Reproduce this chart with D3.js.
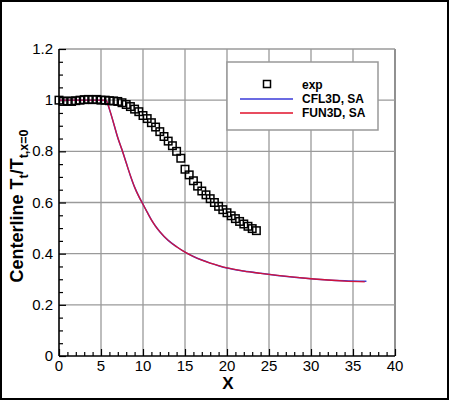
<!DOCTYPE html>
<html><head><meta charset="utf-8">
<script src="https://cdn.jsdelivr.net/npm/d3@7"></script>
<style>body{margin:0;background:#fff}svg{display:block}text{font-family:"Liberation Sans",Arial,sans-serif}</style>
</head><body>
<svg id="c" width="450" height="401"></svg>
<script>
// ---- data ----
const expX = [0,0.5,1,1.5,2,2.5,3,3.5,4,4.5,5,5.5,6,6.5,7,7.5,8,8.5,9,9.5,10,10.5,11,11.5,12,12.5,13,13.5,14,14.5,15,15.5,16,16.5,17,17.5,18,18.5,19,19.5,20,20.5,21,21.5,22,22.5,23,23.5];
const expY = [1.0,0.995,0.997,0.995,0.998,1.0,1.002,1.003,1.002,1.003,1.0,1.0,0.998,0.997,0.995,0.99,0.983,0.975,0.965,0.955,0.94,0.928,0.912,0.895,0.877,0.858,0.84,0.822,0.8,0.773,0.73,0.708,0.685,0.664,0.645,0.63,0.615,0.6,0.585,0.572,0.56,0.548,0.537,0.526,0.516,0.507,0.498,0.49];
const cflX = [0,1,2,3,4,5,5.6,6,6.5,7,7.5,8,8.5,9,9.5,10,10.5,11,11.5,12,13,14,15,16,17,18,19,20,22,24,26,28,30,32,34,36.6];
const cflY = [1.0,1.0,1.0,1.0,1.0,1.0,0.999,0.965,0.91,0.853,0.806,0.755,0.705,0.66,0.624,0.593,0.562,0.532,0.507,0.486,0.452,0.427,0.406,0.389,0.375,0.363,0.353,0.344,0.332,0.323,0.315,0.308,0.302,0.297,0.294,0.292];
const funX = [0,1,2,3,4,5,5.6,6,6.5,7,7.5,8,8.5,9,9.5,10,10.5,11,11.5,12,13,14,15,16,17,18,19,20,22,24,26,28,30,32,34,36.4];
const funY = [1.0,1.0,1.0,1.0,1.0,1.0,0.999,0.965,0.91,0.853,0.806,0.755,0.705,0.66,0.624,0.593,0.562,0.532,0.507,0.486,0.452,0.427,0.406,0.389,0.375,0.363,0.353,0.344,0.332,0.323,0.315,0.308,0.302,0.297,0.293,0.29];
const xTicks = [0,5,10,15,20,25,30,35,40];
const yTicks = [0,0.2,0.4,0.6,0.8,1.0,1.2];
const yTickLabels = ["0","0.2","0.4","0.6","0.8","1","1.2"];
const seriesNames = ["exp","CFL3D, SA","FUN3D, SA"];
const seriesColors = ["#000000","#3a3ad8","#e0102a"];

// ---- layout ----
const svg = d3.select("#c");
const L = 59, R = 395, T = 49, B = 356;
const x = d3.scaleLinear().domain([0,40]).range([L,R]);
const y = d3.scaleLinear().domain([0,1.2]).range([B,T]);

svg.append("rect").attr("x",1).attr("y",1).attr("width",447).attr("height",398)
  .attr("fill","#fff").attr("stroke","#000").attr("stroke-width",2);

// grid
const g = svg.append("g");
g.selectAll("line.gx").data(xTicks.slice(1)).join("line")
  .attr("x1",d=>x(d)).attr("x2",d=>x(d)).attr("y1",B).attr("y2",T)
  .attr("stroke",d=>d===40?"#555":"#9a9a9a").attr("stroke-width",1.3);
g.selectAll("line.gy").data(yTicks.slice(1)).join("line")
  .attr("y1",d=>y(d)).attr("y2",d=>y(d)).attr("x1",L).attr("x2",R)
  .attr("stroke","#9a9a9a").attr("stroke-width",1.3);

// axes (ticks inward)
const ax = svg.append("g").attr("transform",`translate(0,${B})`)
  .call(d3.axisTop(x).tickValues(d3.range(0,41,1)).tickSize(4).tickFormat(""));
ax.selectAll(".tick line").filter(d=>d%5===0).attr("y2",-7);
const ay = svg.append("g").attr("transform",`translate(${L},0)`)
  .call(d3.axisRight(y).tickValues(d3.range(0,1.2001,0.05)).tickSize(4).tickFormat(""));
ay.selectAll(".tick line").filter(d=>Math.abs(d/0.2-Math.round(d/0.2))<1e-6).attr("x2",7);
[ax,ay].forEach(a=>{a.select(".domain").remove();a.selectAll(".tick line").attr("stroke","#000").attr("stroke-width",1.2);});
svg.append("line").attr("x1",L).attr("x2",L).attr("y1",T).attr("y2",B).attr("stroke","#000").attr("stroke-width",1.6);
svg.append("line").attr("x1",L).attr("x2",R).attr("y1",B).attr("y2",B).attr("stroke","#000").attr("stroke-width",1.6);

// tick labels
svg.selectAll("text.xt").data(xTicks).join("text")
  .attr("x",d=>x(d)).attr("y",B+15).attr("text-anchor","middle")
  .attr("font-size",15).text(d=>d);
svg.selectAll("text.yt").data(yTicks).join("text")
  .attr("x",L-6).attr("y",d=>y(d)+5).attr("text-anchor","end")
  .attr("font-size",15).text((d,i)=>yTickLabels[i]);

// axis titles
svg.append("text").attr("x",228).attr("y",389).attr("text-anchor","middle")
  .attr("font-size",17).attr("font-weight","bold").text("X");
const yl = svg.append("text").attr("transform","translate(23,206) rotate(-90)")
  .attr("text-anchor","middle").attr("font-size",18).attr("font-weight","bold");
yl.append("tspan").text("Centerline T");
yl.append("tspan").attr("font-size",12.5).attr("dy",5).text("t");
yl.append("tspan").attr("dy",-5).text("/T");
yl.append("tspan").attr("font-size",12.5).attr("dy",5).text("t,x=0");

// lines
const line = d3.line().x(d=>x(d[0])).y(d=>y(d[1])).curve(d3.curveMonotoneX);
svg.append("path").datum(cflX.map((v,i)=>[v,cflY[i]])).attr("d",line)
  .attr("fill","none").attr("stroke",seriesColors[1]).attr("stroke-width",1.5);
svg.append("path").datum(funX.map((v,i)=>[v,funY[i]])).attr("d",line)
  .attr("fill","none").attr("stroke",seriesColors[2]).attr("stroke-width",1.3).attr("stroke-opacity",0.9);

// exp squares
const s = 7.5;
svg.selectAll("rect.exp").data(expX.map((v,i)=>[v,expY[i]])).join("rect")
  .attr("x",d=>x(d[0])-s/2).attr("y",d=>y(d[1])-s/2).attr("width",s).attr("height",s)
  .attr("fill","none").attr("stroke","#000").attr("stroke-width",1.5);

// legend
const lg = svg.append("g");
lg.append("rect").attr("x",227).attr("y",62).attr("width",151).attr("height",68)
  .attr("fill","#fff").attr("stroke","#999").attr("stroke-width",1.5);
lg.append("rect").attr("x",263.5).attr("y",80.5).attr("width",7).attr("height",7)
  .attr("fill","none").attr("stroke","#000").attr("stroke-width",1.5);
[1,2].forEach((k,j)=>{
  lg.append("line").attr("x1",240).attr("x2",293).attr("y1",99+14*j).attr("y2",99+14*j)
    .attr("stroke",seriesColors[k]).attr("stroke-width",1.5);
});
seriesNames.forEach((n,i)=>{
  lg.append("text").attr("x",302).attr("y",89+14*i).attr("font-size",12)
    .attr("font-weight","bold").text(n);
});
</script>
</body></html>
